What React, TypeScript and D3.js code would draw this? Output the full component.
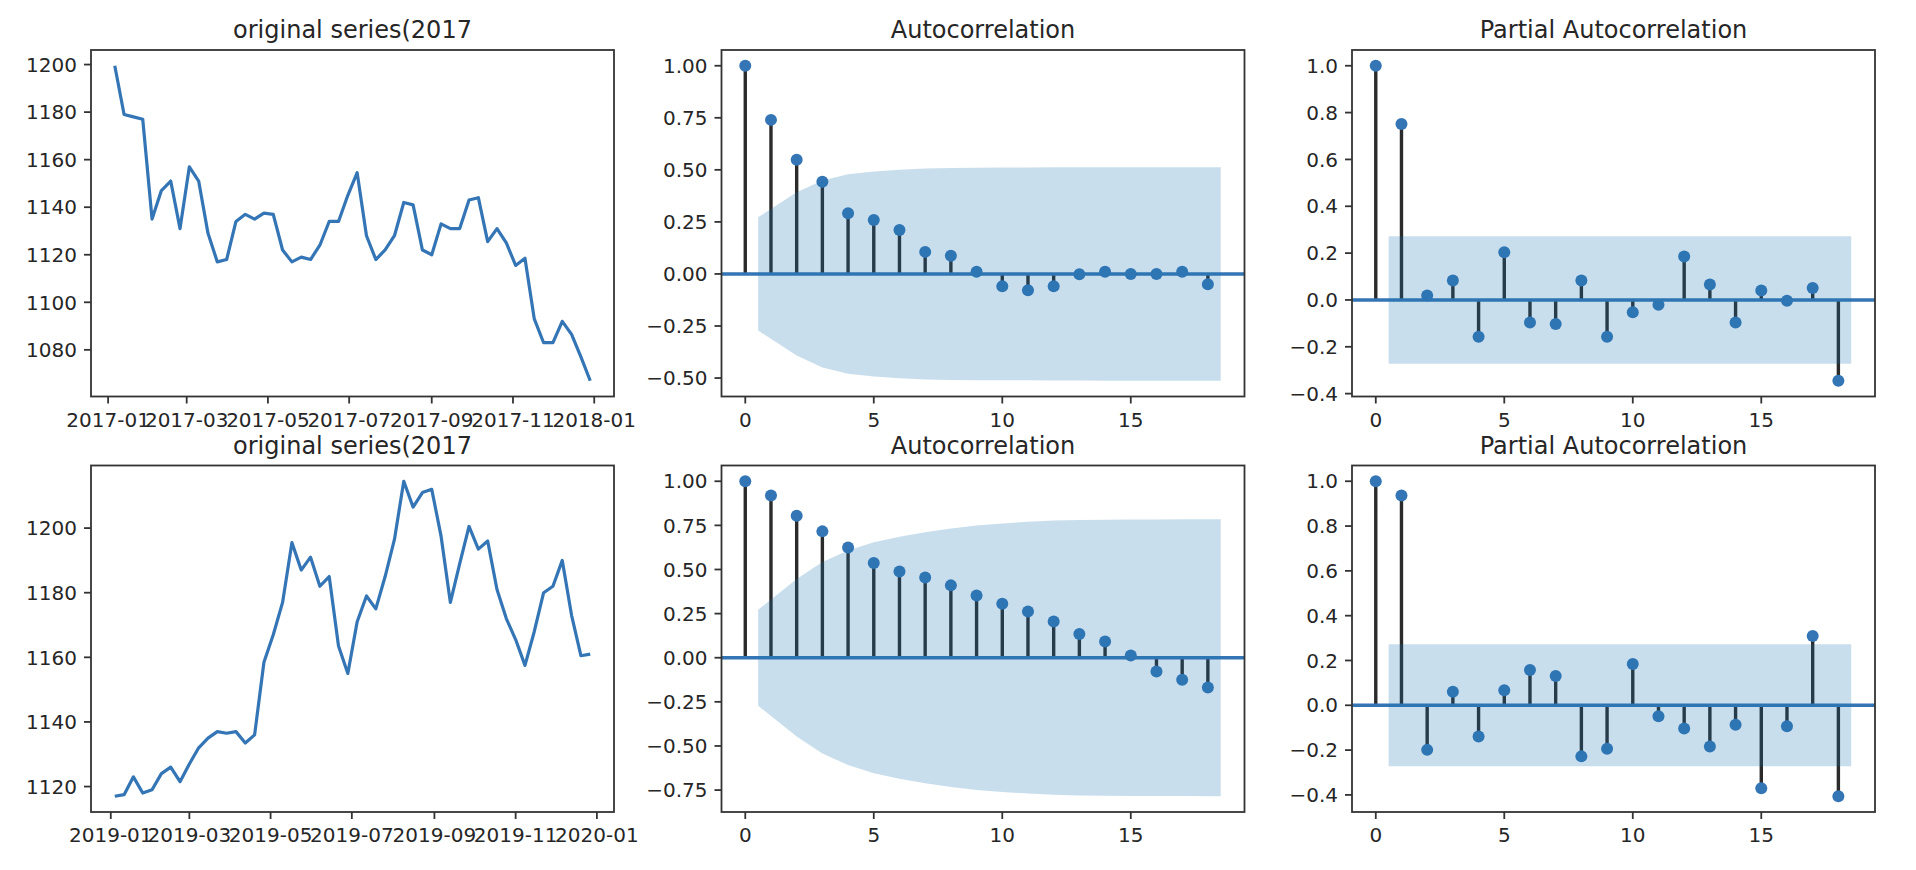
import React from 'react';
import * as d3 from 'd3';

// ---------- data ----------
const series2017 = [
  1199.5, 1179, 1178, 1177, 1135, 1147, 1151, 1131, 1157, 1151,
  1129, 1117, 1118, 1134, 1137, 1135, 1137.5, 1137, 1122, 1117,
  1119, 1118, 1124, 1134, 1134, 1145, 1154.5, 1128, 1118, 1122,
  1128, 1142, 1141, 1122, 1120, 1133, 1131, 1131, 1143, 1144,
  1125.5, 1131, 1125, 1115.5, 1118.5, 1093, 1083, 1083, 1092, 1086.5,
  1077, 1067,
];
const series2019 = [
  1117, 1117.5, 1123, 1118, 1119, 1124, 1126, 1121.5, 1127, 1132,
  1135, 1137, 1136.5, 1137, 1133.5, 1136, 1158.5, 1167, 1177, 1195.5,
  1187, 1191, 1182, 1185, 1163.5, 1155, 1171, 1179, 1175, 1185,
  1196.5, 1214.5, 1206.5, 1211, 1212, 1197.5, 1177, 1189, 1200.5, 1193.5,
  1196, 1181, 1172, 1165.5, 1157.5, 1168, 1180, 1182, 1190, 1173,
  1160.5, 1161,
];
const firstFriday2017 = Date.UTC(2017, 0, 6);
const firstFriday2019 = Date.UTC(2019, 0, 4);

const acf2017 = [1.0, 0.74, 0.548, 0.443, 0.291, 0.259, 0.211, 0.106, 0.087, 0.01,
  -0.059, -0.078, -0.059, -0.001, 0.01, 0.0, 0.0, 0.01, -0.049];
const acfBand2017 = [0.272, 0.392, 0.449, 0.479, 0.492, 0.501, 0.507, 0.509, 0.51,
  0.511, 0.511, 0.512, 0.512, 0.513, 0.513, 0.513, 0.513, 0.513];
const pacf2017 = [1.0, 0.751, 0.019, 0.083, -0.157, 0.204, -0.096, -0.103, 0.083, -0.157,
  -0.053, -0.02, 0.186, 0.066, -0.096, 0.04, -0.003, 0.051, -0.345];
const pacfBand2017 = [0.272, 0.272, 0.272, 0.272, 0.272, 0.272, 0.272, 0.272, 0.272,
  0.272, 0.272, 0.272, 0.272, 0.272, 0.272, 0.272, 0.272, 0.272];

const acf2019 = [1.0, 0.919, 0.805, 0.716, 0.625, 0.537, 0.489, 0.455, 0.41, 0.353,
  0.306, 0.262, 0.205, 0.135, 0.092, 0.013, -0.078, -0.125, -0.169];
const acfBand2019 = [0.272, 0.446, 0.543, 0.608, 0.654, 0.686, 0.711, 0.732, 0.749,
  0.761, 0.77, 0.777, 0.781, 0.782, 0.783, 0.783, 0.784, 0.785];
const pacf2019 = [1.0, 0.936, -0.199, 0.06, -0.139, 0.067, 0.157, 0.131, -0.228, -0.194,
  0.184, -0.049, -0.104, -0.184, -0.087, -0.37, -0.094, 0.309, -0.406];
const pacfBand2019 = pacfBand2017;

const titles = ['original series(2017', 'Autocorrelation', 'Partial Autocorrelation'];
const yTicksSeries2017 = [1080, 1100, 1120, 1140, 1160, 1180, 1200];
const yTicksSeries2019 = [1120, 1140, 1160, 1180, 1200];
const monthTicks2017 = ['2017-01', '2017-03', '2017-05', '2017-07', '2017-09', '2017-11', '2018-01'];
const monthTicks2019 = ['2019-01', '2019-03', '2019-05', '2019-07', '2019-09', '2019-11', '2020-01'];
const yTicksAcf2017 = [-0.5, -0.25, 0, 0.25, 0.5, 0.75, 1.0];
const yTicksAcf2019 = [-0.75, -0.5, -0.25, 0, 0.25, 0.5, 0.75, 1.0];
const yTicksPacf = [-0.4, -0.2, 0, 0.2, 0.4, 0.6, 0.8, 1.0];
const lagTicks = [0, 5, 10, 15];

// ---------- style ----------
const BLUE = '#3475b5';
const FONT = '"DejaVu Sans", sans-serif';
const TICK_FS = 20;
const TITLE_FS = 24;
const SPINE = '#333';
const TEXT = '#262626';

const L = 91, PW = 523, GAP = 107.5;
const TOPS = [50, 465.5];
const PH = 346.5;

const fmtMinus = (s: string) => s.replace('-', '\u2212');

function pad(ext: [number, number], f = 0.05): [number, number] {
  const d = ext[1] - ext[0];
  return [ext[0] - d * f, ext[1] + d * f];
}

function Frame({ w, h }: { w: number; h: number }) {
  return <rect x={0} y={0} width={w} height={h} fill="none" stroke={SPINE} strokeWidth={1.8} />;
}

function YAxis({ scale, ticks, fmt }: { scale: any; ticks: number[]; fmt: (v: number) => string }) {
  return (
    <g>
      {ticks.map((t, i) => (
        <g key={i} transform={`translate(0,${scale(t)})`}>
          <line x1={-7} x2={0} stroke={SPINE} strokeWidth={1.8} />
          <text x={-14} dy="0.36em" textAnchor="end" fontSize={TICK_FS} fontFamily={FONT} fill={TEXT}>
            {fmt(t)}
          </text>
        </g>
      ))}
    </g>
  );
}

function XAxis({ scale, ticks, labels, h }: { scale: any; ticks: any[]; labels: string[]; h: number }) {
  return (
    <g transform={`translate(0,${h})`}>
      {ticks.map((t, i) => (
        <g key={i} transform={`translate(${scale(t)},0)`}>
          <line y1={0} y2={7} stroke={SPINE} strokeWidth={1.8} />
          <text y={30} textAnchor="middle" fontSize={TICK_FS} fontFamily={FONT} fill={TEXT}>
            {labels[i]}
          </text>
        </g>
      ))}
    </g>
  );
}

function Title({ w, text }: { w: number; text: string }) {
  return (
    <text x={w / 2} y={-12} textAnchor="middle" fontSize={TITLE_FS} fontFamily={FONT} fill={TEXT}>
      {text}
    </text>
  );
}

function SeriesPanel({ x, y, id, start, values, yTicks, monthLabels, title }: any) {
  const dates = d3.utcFriday.range(new Date(start), new Date(start + values.length * 7 * 864e5 - 864e5 * 3));
  const xs = d3.scaleUtc().domain(pad(d3.extent(dates, (d: Date) => +d) as [number, number])).range([0, PW]);
  const ys = d3.scaleLinear().domain(pad(d3.extent(values) as [number, number])).range([PH, 0]);
  const line = d3.line<number>().x((_, i) => xs(dates[i])).y((v) => ys(v));
  const tickDates = monthLabels.map((s: string) => {
    const [yy, mm] = s.split('-').map(Number);
    return new Date(Date.UTC(yy, mm - 1, 1));
  });
  return (
    <g transform={`translate(${x},${y})`}>
      <defs>
        <clipPath id={id}>
          <rect x={0} y={0} width={PW} height={PH} />
        </clipPath>
      </defs>
      <g clipPath={`url(#${id})`}>
        <path d={line(values) || ''} fill="none" stroke={BLUE} strokeWidth={3.2} strokeLinejoin="round" />
      </g>
      <Frame w={PW} h={PH} />
      <YAxis scale={ys} ticks={yTicks} fmt={(v) => String(v)} />
      <XAxis scale={xs} ticks={tickDates} labels={monthLabels} h={PH} />
      <Title w={PW} text={title} />
    </g>
  );
}

function CorrPanel({ x, y, id, vals, band, yTicks, digits, title }: any) {
  const lags = vals.map((_: number, i: number) => i);
  const bandX = band.map((_: number, i: number) => i + 1);
  bandX[0] -= 0.5;
  bandX[bandX.length - 1] += 0.5;
  const xs = d3.scaleLinear().domain(pad([0, bandX[bandX.length - 1]])).range([0, PW]);
  const lo = Math.min(d3.min(vals) as number, -(d3.max(band) as number), 0);
  const hi = Math.max(d3.max(vals) as number, d3.max(band) as number);
  const ys = d3.scaleLinear().domain(pad([lo, hi])).range([PH, 0]);
  const area = d3
    .area<number>()
    .x((_, i) => xs(bandX[i]))
    .y0((b) => ys(-b))
    .y1((b) => ys(b));
  return (
    <g transform={`translate(${x},${y})`}>
      <defs>
        <clipPath id={id}>
          <rect x={0} y={0} width={PW} height={PH} />
        </clipPath>
      </defs>
      <g clipPath={`url(#${id})`}>
        {lags.map((l: number) => (
          <line key={'s' + l} x1={xs(l)} x2={xs(l)} y1={ys(0)} y2={ys(vals[l])} stroke="#2b2b2b" strokeWidth={3.4} />
        ))}
        <line x1={0} x2={PW} y1={ys(0)} y2={ys(0)} stroke={BLUE} strokeWidth={3.4} />
        {lags.map((l: number) => (
          <circle key={'m' + l} cx={xs(l)} cy={ys(vals[l])} r={6} fill={BLUE} />
        ))}
        <path d={area(band) || ''} fill="#1f77b4" fillOpacity={0.24} />
      </g>
      <Frame w={PW} h={PH} />
      <YAxis scale={ys} ticks={yTicks} fmt={(v) => fmtMinus(v.toFixed(digits))} />
      <XAxis scale={xs} ticks={lagTicks} labels={lagTicks.map(String)} h={PH} />
      <Title w={PW} text={title} />
    </g>
  );
}

export default function App() {
  const xs = [L, L + PW + GAP, L + 2 * (PW + GAP)];
  return (
    <div style={{ position: 'fixed', left: 0, top: 0, width: 1916, height: 870, background: '#fff' }}>
      <svg width={1916} height={870} style={{ display: 'block' }}>
        <rect width={1916} height={870} fill="#fff" />
        <SeriesPanel x={xs[0]} y={TOPS[0]} id="c1" start={firstFriday2017} values={series2017}
          yTicks={yTicksSeries2017} monthLabels={monthTicks2017} title={titles[0]} />
        <CorrPanel x={xs[1]} y={TOPS[0]} id="c2" vals={acf2017} band={acfBand2017}
          yTicks={yTicksAcf2017} digits={2} title={titles[1]} />
        <CorrPanel x={xs[2]} y={TOPS[0]} id="c3" vals={pacf2017} band={pacfBand2017}
          yTicks={yTicksPacf} digits={1} title={titles[2]} />
        <SeriesPanel x={xs[0]} y={TOPS[1]} id="c4" start={firstFriday2019} values={series2019}
          yTicks={yTicksSeries2019} monthLabels={monthTicks2019} title={titles[0]} />
        <CorrPanel x={xs[1]} y={TOPS[1]} id="c5" vals={acf2019} band={acfBand2019}
          yTicks={yTicksAcf2019} digits={2} title={titles[1]} />
        <CorrPanel x={xs[2]} y={TOPS[1]} id="c6" vals={pacf2019} band={pacfBand2019}
          yTicks={yTicksPacf} digits={1} title={titles[2]} />
      </svg>
    </div>
  );
}
